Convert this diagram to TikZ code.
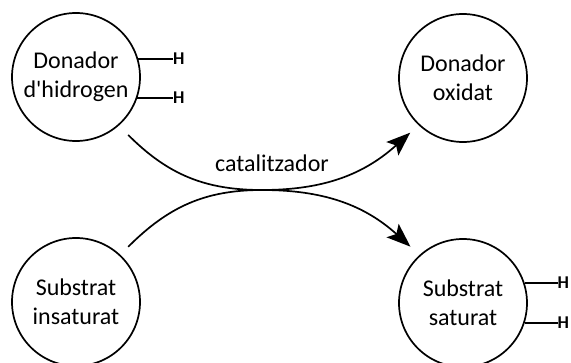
\documentclass[tikz,border=0pt]{standalone}
\usepackage{fontspec}
\setmainfont{Carlito}
\usetikzlibrary{arrows.meta,calc}
\begin{document}
\begin{tikzpicture}[x=1pt,y=1pt,
  species/.style={circle,draw,line width=1.7pt,minimum size=128pt,inner sep=0pt,
    align=center,font=\fontsize{24}{29}\selectfont},
  hatom/.style={font=\fontsize{18}{21}\selectfont\bfseries,inner sep=0pt,anchor=west},
  bond/.style={line width=1.7pt},
  flow/.style={line width=1.7pt,-{Stealth[length=24pt,width=18pt,inset=5pt]}},
  lbl/.style={font=\fontsize{24}{29}\selectfont,inner sep=0pt,anchor=base}]
\useasboundingbox (0,0) rectangle (571,362);

% molecules
\node[species] (tl) at (76,285) {Donador\\d\textquotesingle hidrogen};
\node[species] (tr) at (463,284) {Donador\\oxidat};
\node[species] (bl) at (76,60) {Substrat\\insaturat};
\node[species] (br) at (463,59) {Substrat\\saturat};

% hydrogen atoms on the donor
\node[hatom] (h1) at (173,303) {H};
\node[hatom] (h2) at (173,264) {H};
\draw[bond] (tl.16) -- (tl.16 -| h1.west);
\draw[bond] (tl.-19) -- (tl.-19 -| h2.west);

% hydrogen atoms on the saturated substrate
\node[hatom] (h3) at (557.5,79) {H};
\node[hatom] (h4) at (557.5,39) {H};
\draw[bond] (br.18) -- (br.18 -| h3.west);
\draw[bond] (br.-18) -- (br.-18 -| h4.west);

% reaction arrows crossing at the catalyst
\coordinate (mid) at (262,172);
\coordinate (s1) at ($(tl)+(-48:78)$);
\coordinate (e1) at ($(tr)+(-134:76)$);
\coordinate (s2) at ($(bl)+(46.6:76)$);
\coordinate (e2) at ($(br)+(133:77)$);
\draw[flow] (s1) to[out=-45,in=180] (mid) to[out=0,in=-138] (e1);
\draw[flow] (s2) to[out=45,in=180] (mid) to[out=0,in=138] (e2);

\node[lbl] (cat) at (272,190) {catalitzador};
\end{tikzpicture}
\end{document}
